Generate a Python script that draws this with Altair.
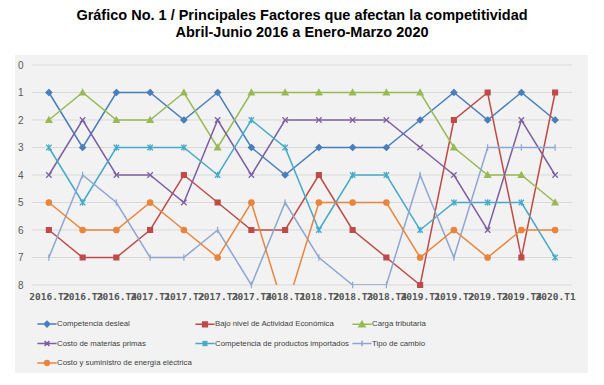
import altair as alt
import pandas as pd

quarters = ["2016.T2", "2016.T3", "2016.T4", "2017.T1", "2017.T2", "2017.T3", "2017.T4",
            "2018.T1", "2018.T2", "2018.T3", "2018.T4", "2019.T1", "2019.T2", "2019.T3",
            "2019.T4", "2020.T1"]

series_names = ["Competencia desleal", "Bajo nivel de Actividad Económica", "Carga tributaria",
                "Costo de materias primas", "Competencia de productos importados",
                "Tipo de cambio", "Costo y suministro de energía eléctrica"]

competencia_desleal = [1, 3, 1, 1, 2, 1, 3, 4, 3, 3, 3, 2, 1, 2, 1, 2]
bajo_nivel_actividad = [6, 7, 7, 6, 4, 5, 6, 6, 4, 6, 7, 8, 2, 1, 7, 1]
carga_tributaria = [2, 1, 2, 2, 1, 3, 1, 1, 1, 1, 1, 1, 3, 4, 4, 5]
costo_materias_primas = [4, 2, 4, 4, 5, 2, 4, 2, 2, 2, 2, 3, 4, 6, 2, 4]
competencia_importados = [3, 5, 3, 3, 3, 4, 2, 3, 6, 4, 4, 6, 5, 5, 5, 7]
tipo_de_cambio = [7, 4, 5, 7, 7, 6, 8, 5, 7, 8, 8, 4, 7, 3, 3, 3]
costo_energia = [5, 6, 6, 5, 6, 7, 5, 9, 5, 5, 5, 7, 6, 7, 6, 6]

all_values = [competencia_desleal, bajo_nivel_actividad, carga_tributaria,
              costo_materias_primas, competencia_importados, tipo_de_cambio, costo_energia]

y_ticks = [0, 1, 2, 3, 4, 5, 6, 7, 8]

colors = ["#4A7EBB", "#BE4B48", "#98B954", "#7D60A0", "#46AAC5", "#8EA6D0", "#E8853D"]
line_widths = [1.5, 1.5, 1.5, 1.5, 1.5, 2.0, 2.5]
marker_paths = [
    "M0,-1.1L1.1,0L0,1.1L-1.1,0Z",
    "M-0.9,-0.9L0.9,-0.9L0.9,0.9L-0.9,0.9Z",
    "M0,-1.1L1.1,0.9L-1.1,0.9Z",
    "M-1,-1L1,1M-1,1L1,-1",
    "M-1,-1L1,1M-1,1L1,-1M0,-1.2L0,1.2",
    "M0,-1.2L0,1.2",
    "M1,0A1,1 0 1,1 -1,0A1,1 0 1,1 1,0Z",
]
marker_sizes = [30, 30, 34, 30, 30, 34, 44]
legend_paths = [
    "M-1.2,0L1.2,0M0,-0.35L0.35,0L0,0.35L-0.35,0Z",
    "M-1.2,0L1.2,0M-0.3,-0.3L0.3,-0.3L0.3,0.3L-0.3,0.3Z",
    "M-1.2,0L1.2,0M0,-0.38L0.38,0.3L-0.38,0.3Z",
    "M-1.2,0L1.2,0M-0.3,-0.3L0.3,0.3M-0.3,0.3L0.3,-0.3",
    "M-1.2,0L1.2,0M-0.3,-0.3L0.3,0.3M-0.3,0.3L0.3,-0.3M0,-0.35L0,0.35",
    "M-1.2,0L1.2,0M0,-0.35L0,0.35",
    "M-1.2,0L1.2,0M0.3,0A0.3,0.3 0 1,1 -0.3,0A0.3,0.3 0 1,1 0.3,0Z",
]

rows = []
for name, vals in zip(series_names, all_values):
    for q, v in zip(quarters, vals):
        rows.append({"quarter": q, "value": v, "series": name})
df = pd.DataFrame(rows)

grid_df = pd.DataFrame({"value": y_ticks})
bg_df = pd.DataFrame({"a": [0]})

y_scale = alt.Scale(domain=[0, 8], reverse=True, nice=False, zero=False)
x_scale = alt.Scale(domain=quarters)

x_axis = alt.Axis(labelAngle=0, domain=False, ticks=False, grid=False,
                  labelPadding=6, labelFont="DejaVu Sans Mono", labelFontSize=9.5,
                  labelFontWeight="bold", labelColor="#555555",
                  labelOverlap=False, title=None, zindex=1)
y_axis = alt.Axis(values=y_ticks, domain=False, ticks=False, grid=False,
                  labelPadding=9, labelFont="Liberation Sans", labelFontSize=10,
                  labelColor="#595959", title=None, zindex=1)

x_enc = alt.X("quarter:N", scale=x_scale, sort=quarters, axis=x_axis)
y_enc = alt.Y("value:Q", scale=y_scale, axis=y_axis)

bg = alt.Chart(bg_df).mark_rect(color="#F2F2F2", clip=False).encode(
    x=alt.value(-17), x2=alt.value(556), y=alt.value(-10), y2=alt.value(308)
)

grid = alt.Chart(grid_df).mark_rule(color="#D9D9D9", strokeWidth=1).encode(
    y=y_enc,
    x=alt.value(0), x2=alt.value(540)
)

lines = alt.Chart(df).mark_line(clip=True).encode(
    x=x_enc,
    y=y_enc,
    color=alt.Color("series:N", scale=alt.Scale(domain=series_names, range=colors), legend=None),
    strokeWidth=alt.StrokeWidth("series:N", scale=alt.Scale(domain=series_names, range=line_widths), legend=None),
)

points = alt.Chart(df).transform_filter("datum.value <= 8").mark_point(
    filled=True, opacity=1, strokeWidth=1.2
).encode(
    x=x_enc,
    y=y_enc,
    fill=alt.Fill("series:N", scale=alt.Scale(domain=series_names, range=colors), legend=None),
    stroke=alt.Stroke("series:N", scale=alt.Scale(domain=series_names, range=colors), legend=None),
    shape=alt.Shape("series:N", scale=alt.Scale(domain=series_names, range=marker_paths), legend=None),
    size=alt.Size("series:N", scale=alt.Scale(domain=series_names, range=marker_sizes), legend=None),
)

leg = alt.Legend(orient="none", legendX=6, legendY=250, columns=3, direction="horizontal",
                 title=None, labelFont="Liberation Sans", labelFontSize=7.8, labelColor="#404040",
                 symbolSize=256, symbolStrokeWidth=1.5, columnPadding=0, rowPadding=4.5,
                 labelOffset=1, padding=0, zindex=1, labelLimit=300)

legend_layer = alt.Chart(df).transform_filter("false").mark_point(
    filled=True, opacity=1, strokeWidth=1.5
).encode(
    x=x_enc,
    y=y_enc,
    fill=alt.Fill("series:N", scale=alt.Scale(domain=series_names, range=colors), legend=leg),
    stroke=alt.Stroke("series:N", scale=alt.Scale(domain=series_names, range=colors), legend=leg),
    shape=alt.Shape("series:N", scale=alt.Scale(domain=series_names, range=legend_paths), legend=leg),
)

chart = alt.layer(bg, grid, lines, points, legend_layer).resolve_scale(
    shape="independent", fill="independent", stroke="independent"
).properties(
    width=540, height=220,
    autosize="none",
    padding={"left": 24, "top": 57, "right": 24, "bottom": 88},
    title=alt.Title(
        text=["Gráfico No. 1 / Principales Factores que afectan la competitividad",
              "Abril-Junio 2016 a Enero-Marzo 2020"],
        font="Liberation Sans", fontSize=14.5, fontWeight="bold", color="#000000",
        anchor="middle", lineHeight=17, offset=15, zindex=1,
    ),
).configure_view(stroke=None).configure(background="#FFFFFF")

chart.save("out.html", embed_options={"renderer": "svg", "actions": False})
